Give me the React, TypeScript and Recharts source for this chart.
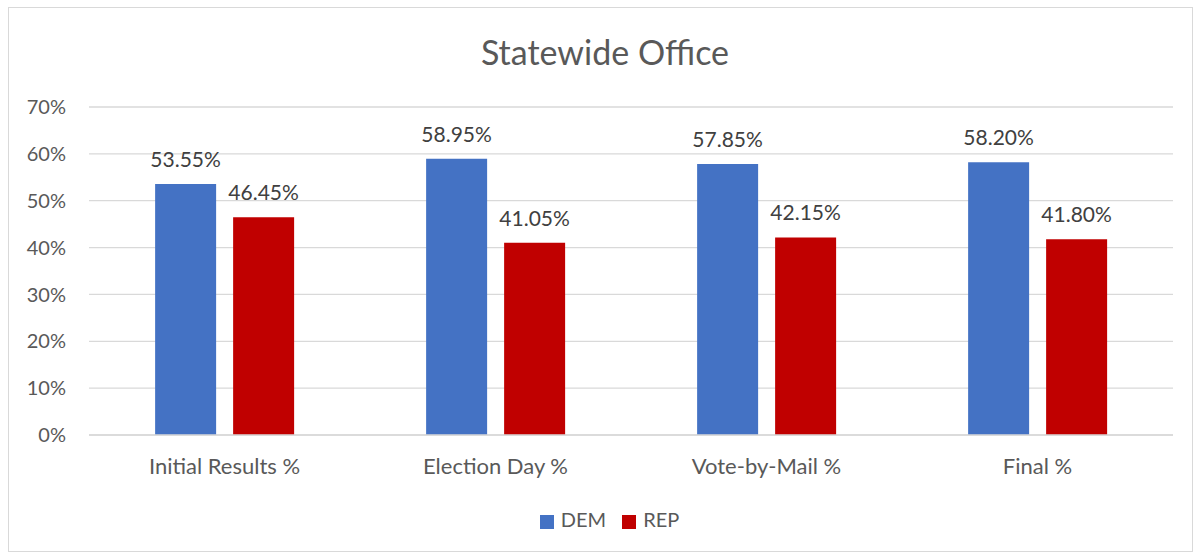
import { BarChart, Bar, XAxis, YAxis, CartesianGrid, Legend, LabelList } from "recharts";

const categories = ["Initial Results %", "Election Day %", "Vote-by-Mail %", "Final %"];
const demValues = [53.55, 58.95, 57.85, 58.2];
const repValues = [46.45, 41.05, 42.15, 41.8];
const yTicks = [0, 10, 20, 30, 40, 50, 60, 70];

const data = categories.map((name, i) => ({ name, DEM: demValues[i], REP: repValues[i] }));

const FONT = "Lato, 'Open Sans', sans-serif";

export default function App() {
  return (
    <div style={{ position: "absolute", left: 0, top: 0, width: 1193, height: 552, background: "#fff", fontFamily: FONT }}>
      <div
        style={{
          position: "absolute",
          left: 8,
          top: 7,
          width: 1185,
          height: 545,
          border: "1px solid #d9d9d9",
          boxSizing: "border-box",
        }}
      />
      <div
        style={{
          position: "absolute",
          top: 31,
          left: 0,
          width: 1210,
          textAlign: "center",
          fontSize: 34,
          color: "#595959",
        }}
      >
        Statewide Office
      </div>
      <div style={{ position: "absolute", left: 0, top: 0 }}>
        <BarChart
          width={1193}
          height={552}
          data={data}
          margin={{ top: 107, right: 20, left: 0, bottom: 43 }}
          barCategoryGap="24.4%"
          barGap={17}
        >
          <CartesianGrid vertical={false} stroke="#d9d9d9" strokeWidth={1.3} />
          <XAxis
            dataKey="name"
            tickLine={false}
            axisLine={{ stroke: "#d9d9d9", strokeWidth: 1.3 }}
            tick={{ fontSize: 22, fill: "#595959", fontFamily: FONT }}
            tickMargin={17}
            height={50}
          />
          <YAxis
            domain={[0, 70]}
            ticks={yTicks}
            tickFormatter={(v) => `${v}%`}
            tickLine={false}
            axisLine={false}
            tick={{ fontSize: 20, fill: "#595959", fontFamily: FONT }}
            tickMargin={17}
            width={89}
          />
          <Legend
            verticalAlign="bottom"
            iconType="square"
            iconSize={14}
            wrapperStyle={{ fontSize: 20, color: "#595959", fontFamily: FONT, top: 507, bottom: "auto", left: 0, width: 1235 }}
            formatter={(value) => <span style={{ color: "#595959", marginLeft: 3, marginRight: 6 }}>{value}</span>}
          />
          <Bar dataKey="DEM" fill="#4472c4" isAnimationActive={false}>
            <LabelList
              dataKey="DEM"
              position="top"
              offset={17}
              formatter={(v: number) => `${v.toFixed(2)}%`}
              style={{ fontSize: 21, fill: "#404040", fontFamily: FONT }}
            />
          </Bar>
          <Bar dataKey="REP" fill="#c00000" isAnimationActive={false}>
            <LabelList
              dataKey="REP"
              position="top"
              offset={17}
              formatter={(v: number) => `${v.toFixed(2)}%`}
              style={{ fontSize: 21, fill: "#404040", fontFamily: FONT }}
            />
          </Bar>
        </BarChart>
      </div>
    </div>
  );
}
